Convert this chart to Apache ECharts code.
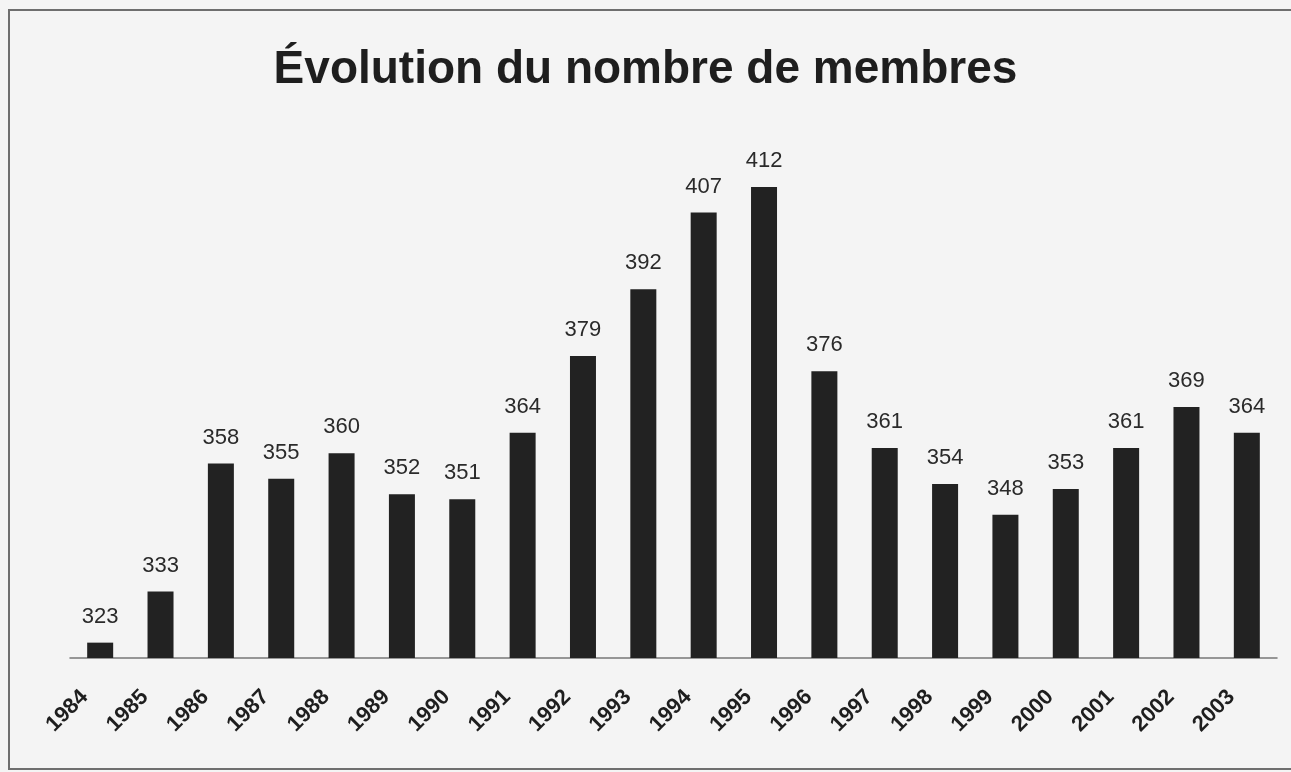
<!DOCTYPE html>
<html>
<head>
<meta charset="utf-8">
<script src="https://cdn.jsdelivr.net/npm/echarts@6/dist/echarts.min.js"></script>
<style>
    html, body { margin: 0; padding: 0; background: #f4f4f4; }
    #chart { width: 1291px; height: 772px; }
</style>
</head>
<body>
<div id="chart"></div>
<script>
    // années et nombre de membres
    var years = ['1984', '1985', '1986', '1987', '1988', '1989', '1990', '1991', '1992', '1993',
                 '1994', '1995', '1996', '1997', '1998', '1999', '2000', '2001', '2002', '2003'];
    var members = [323, 333, 358, 355, 360, 352, 351, 364, 379, 392,
                   407, 412, 376, 361, 354, 348, 353, 361, 369, 364];

    var myChart = echarts.init(document.getElementById('chart'));
    var option = {
        backgroundColor: '#f4f4f4',
        title: {
            text: 'Évolution du nombre de membres',
            left: 'center',
            top: 42,
            textStyle: {
                fontFamily: 'Liberation Sans',
                fontSize: 46,
                fontWeight: 'bold',
                color: '#1e1e1e'
            }
        },
        graphic: [{
            type: 'rect',
            shape: {x: 9, y: 10, width: 1300, height: 759},
            style: {fill: 'none', stroke: '#6e6e6e', lineWidth: 2},
            silent: true
        }],
        grid: {left: 70, right: 14, top: 146, bottom: 114},
        xAxis: {
            type: 'category',
            data: years,
            axisLine: {lineStyle: {color: '#777', width: 1.5}},
            axisTick: {show: false},
            axisLabel: {
                interval: 0,
                rotate: 45,
                margin: 20,
                padding: [0, 22, 0, 0],
                fontFamily: 'Liberation Sans',
                fontSize: 22,
                fontWeight: 'bold',
                color: '#1e1e1e'
            }
        },
        yAxis: {
            type: 'value',
            min: 320,
            max: 420,
            show: false,
            splitLine: {show: false}
        },
        series: [{
            type: 'bar',
            data: members,
            barWidth: 26,
            itemStyle: {color: '#222222'},
            label: {
                show: true,
                position: 'top',
                distance: 15,
                fontFamily: 'Liberation Sans',
                fontSize: 22,
                color: '#2a2a2a'
            }
        }]
    };
    myChart.setOption(option);
</script>
</body>
</html>
